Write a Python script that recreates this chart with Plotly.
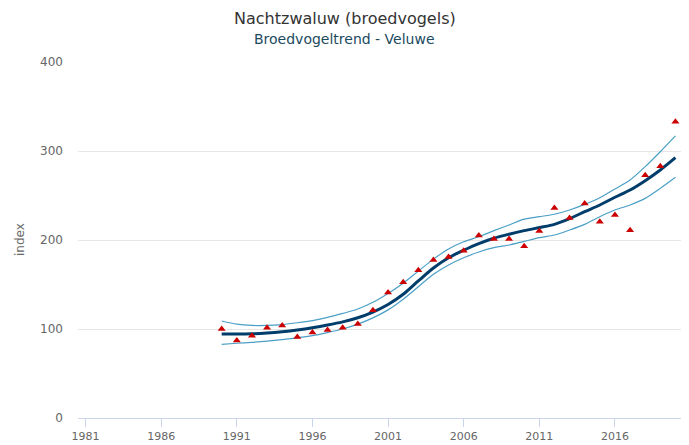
import plotly.graph_objects as go

years = list(range(1990, 2021))

observed = [100, 87, 92.5, 101.5, 104, 91, 96, 99, 101.5, 105.6,
            121, 141, 152.5, 166, 177.5, 181, 188, 205, 201, 201,
            193, 210, 236, 224.7, 241, 220.5, 228, 211, 272.7, 283, 333]

trend = [94.4, 94.3, 94.6, 95.5, 97, 99, 101.5, 104.5, 108, 112.6,
         119, 127.5, 139, 154, 168.5, 180, 188.5, 196, 202, 206.5,
         210.5, 214, 217.6, 224, 231.8, 239.3, 248, 256.2, 266.7, 278.7, 292.5]

upper = [109, 105.5, 104, 104, 105, 107, 109.5, 113, 117.5, 122.5,
         130, 140, 151.5, 165, 178.5, 190, 198, 203.7, 210.5, 216.9,
         223.5, 226.2, 228.9, 233.7, 240, 247.5, 257.3, 267.4, 282.4, 299.2, 316.9]

lower = [82.8, 84, 85, 86.3, 88, 90, 92.5, 96, 100, 105.5,
         112.5, 121.5, 133.5, 147.5, 161.5, 172, 180, 186.5, 191.4, 194.4,
         198.5, 202.6, 205.6, 211.2, 217.6, 226.2, 233.7, 239.3, 246.8, 258, 270.4]

x_ticks = [1981, 1986, 1991, 1996, 2001, 2006, 2011, 2016]
y_ticks = [0, 100, 200, 300, 400]

title_text = "Nachtzwaluw (broedvogels)"
subtitle_text = "Broedvogeltrend - Veluwe"
y_title = "index"

FONT = "DejaVu Sans"

# page body has an 8px margin; figure sized so it ends at the window edge
OFF = 8
W, H = 689 - OFF, 445 - OFF
L, T = 78 - OFF, 62 - OFF
R = W - (683 - OFF)
B = H - (418 - OFF)
plot_w = W - L - R
plot_h = H - T - B


def px_x(px):
    return (px - OFF - L) / plot_w


def px_y(py):
    return (H - B - (py - OFF)) / plot_h


fig = go.Figure()
fig.add_trace(go.Scatter(x=years, y=upper, mode="lines",
                         line=dict(color="#4a9fc6", width=1.2, shape="spline", smoothing=0.8),
                         hoverinfo="skip", showlegend=False))
fig.add_trace(go.Scatter(x=years, y=lower, mode="lines",
                         line=dict(color="#4a9fc6", width=1.2, shape="spline", smoothing=0.8),
                         hoverinfo="skip", showlegend=False))
fig.add_trace(go.Scatter(x=years, y=trend, mode="lines",
                         line=dict(color="#003d6b", width=3, shape="spline", smoothing=0.8),
                         showlegend=False))
fig.add_trace(go.Scatter(x=years, y=observed, mode="markers",
                         marker=dict(symbol="triangle-up", size=7, color="#cc0000",
                                     line=dict(width=0)),
                         showlegend=False))

fig.update_layout(
    width=W, height=H,
    margin=dict(l=L, r=R, t=T, b=B, autoexpand=False),
    paper_bgcolor="white", plot_bgcolor="white",
    font=dict(family=FONT, color="#666666"),
    xaxis=dict(range=[1980.5, 2020.5], tickvals=x_ticks,
               ticktext=[str(t) for t in x_ticks],
               showgrid=False, zeroline=False, automargin=False,
               showline=True, linecolor="#ccd6eb", linewidth=1,
               ticks="outside", ticklen=8, tickcolor="#ccd6eb",
               tickfont=dict(size=11, color="#666666", family=FONT)),
    yaxis=dict(range=[0, 400], tickvals=y_ticks, showgrid=True,
               gridcolor="#e6e6e6", gridwidth=1, zeroline=False,
               showline=False, ticks="", ticklabelstandoff=14, automargin=False,
               tickfont=dict(size=12, color="#666666", family=FONT)),
)

fig.add_annotation(text=title_text, xref="paper", yref="paper",
                   x=px_x(344.5), y=px_y(8), yanchor="top",
                   showarrow=False, xanchor="center", borderpad=0,
                   font=dict(size=16, color="#333333", family=FONT))
fig.add_annotation(text=subtitle_text, xref="paper", yref="paper",
                   x=px_x(344.5), y=px_y(39),
                   showarrow=False, xanchor="center", yanchor="middle",
                   font=dict(size=14, color="#1b4a5e", family=FONT))
fig.add_annotation(text=y_title, xref="paper", yref="paper",
                   x=px_x(20), y=px_y(240), textangle=-90,
                   showarrow=False, xanchor="center", yanchor="middle",
                   font=dict(size=12, color="#666666", family=FONT))

fig.write_html("out.html")
